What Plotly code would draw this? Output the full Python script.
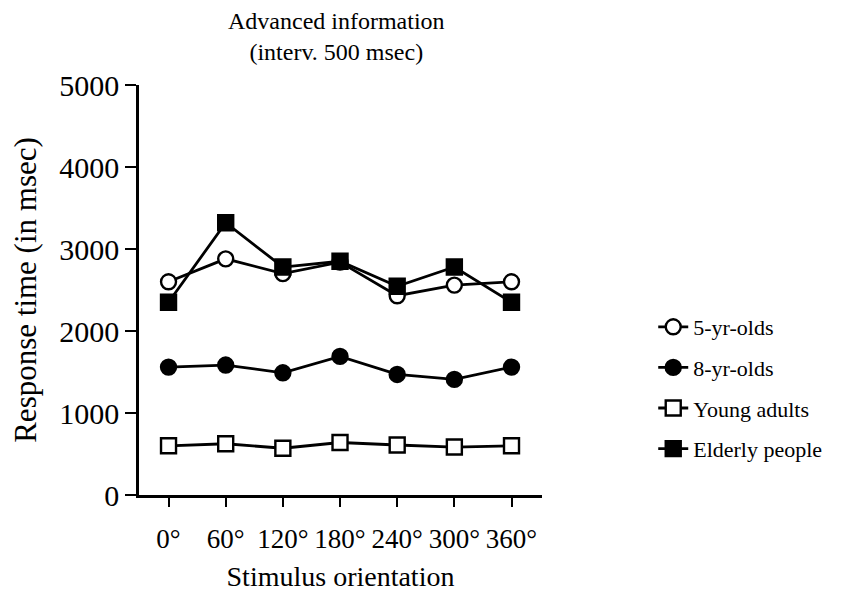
import plotly.graph_objects as go

orientations = [0, 60, 120, 180, 240, 300, 360]
tick_labels = ["0°", "60°", "120°", "180°", "240°", "300°", "360°"]

five_yr_olds = [2600, 2880, 2700, 2840, 2430, 2560, 2600]
eight_yr_olds = [1560, 1585, 1490, 1690, 1470, 1410, 1560]
young_adults = [600, 625, 570, 640, 610, 585, 600]
elderly_people = [2350, 3320, 2780, 2850, 2545, 2780, 2350]

series = [
    ("5-yr-olds", five_yr_olds, "circle", "white"),
    ("8-yr-olds", eight_yr_olds, "circle", "black"),
    ("Young adults", young_adults, "square", "white"),
    ("Elderly people", elderly_people, "square", "black"),
]

FONT = "Liberation Serif, Times New Roman, serif"

fig = go.Figure()
for i, (name, vals, sym, fill) in enumerate(series):
    fig.add_trace(go.Scatter(
        x=orientations, y=vals, name=name, mode="lines+markers",
        legendgroup=f"g{i}",
        line=dict(color="black", width=2.8),
        marker=dict(symbol=sym, size=15, color=fill,
                    line=dict(color="black", width=2.4)),
    ))

# the page has an 8px body margin, so margins are reduced by 8 on left/top
fig.update_layout(
    width=854, height=592,
    margin=dict(l=131, r=320, t=77, b=105, autoexpand=False),
    paper_bgcolor="white", plot_bgcolor="white",
    font=dict(family=FONT, color="black"),
    showlegend=True,
    legend=dict(x=1.276, y=0.461, xanchor="left", yanchor="top",
                font=dict(size=22, family=FONT), tracegroupgap=9,
                bgcolor="rgba(0,0,0,0)"),
    annotations=[
        dict(text="Advanced information<br>(interv. 500 msec)", x=0.491, y=1.118,
             xref="paper", yref="paper", align="center",
             showarrow=False, font=dict(size=24, family=FONT), xanchor="center", yanchor="middle"),
    ],
)

fig.update_xaxes(
    range=[-31, 392], tickvals=orientations, ticktext=tick_labels,
    showgrid=False, zeroline=False, showline=True, linecolor="black", linewidth=2.5,
    ticks="outside", ticklen=9, tickwidth=2.2, tickcolor="black", automargin=False,
    tickfont=dict(size=27, family=FONT), ticklabelstandoff=9,
    title=dict(text="Stimulus orientation", font=dict(size=28, family=FONT), standoff=14),
)
fig.update_yaxes(
    range=[0, 5000], tickvals=[0, 1000, 2000, 3000, 4000, 5000],
    showgrid=False, zeroline=False, showline=True, linecolor="black", linewidth=2.5,
    ticks="outside", ticklen=11, tickwidth=2.2, tickcolor="black", automargin=False,
    tickfont=dict(size=30, family=FONT),
    title=dict(text="Response time (in msec)", font=dict(size=31, family=FONT), standoff=22),
)

fig.write_html("out.html")
